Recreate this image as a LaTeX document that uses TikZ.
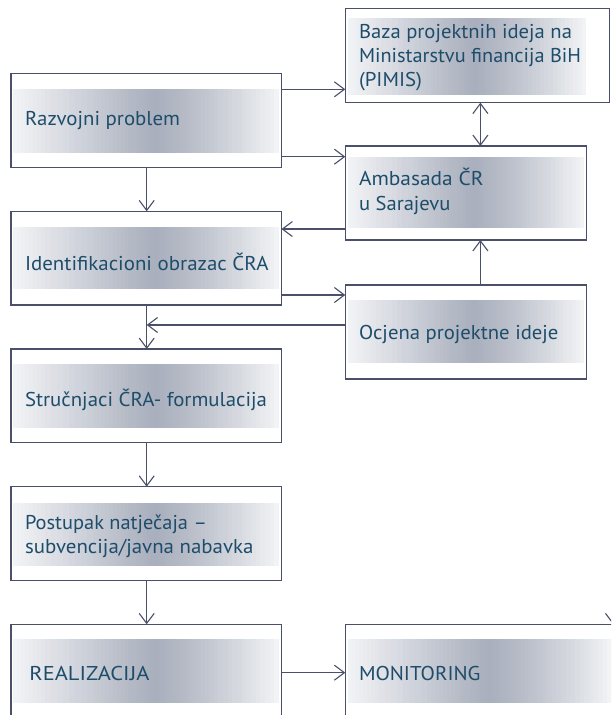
\documentclass[tikz,border=0pt]{standalone}
\usepackage{fontspec}
\usepackage{graphicx}
\setmainfont{PT Sans}
\usetikzlibrary{arrows.meta}
\definecolor{bordercol}{HTML}{4A5069}
\definecolor{txtcol}{HTML}{1E4D6B}
\definecolor{ga}{HTML}{F3F4F6}
\definecolor{gb}{HTML}{E2E4E9}
\definecolor{gc}{HTML}{C8CCD5}
\definecolor{gd}{HTML}{B7BCC7}
\definecolor{ge}{HTML}{A9AFBD}
\definecolor{gf}{HTML}{B2B7C3}
\definecolor{gg}{HTML}{C1C5CF}
\definecolor{gh}{HTML}{D8DBE1}
\definecolor{gi}{HTML}{F3F4F6}
\newlength\txtlen
\newcommand\fitw[2]{\settowidth{\txtlen}{#2}\pgfmathsetmacro\fitfactor{#1/\txtlen}\scalebox{\fitfactor}[1]{#2}}
\newcommand\drawband[4]{%
  \pgfmathsetmacro\bandw{#3-#1}%
  \foreach \fa/\fb/\ca/\cb in {0/0.12/ga/gb, 0.12/0.30/gb/gc, 0.30/0.42/gc/gd, 0.42/0.53/gd/ge, 0.53/0.62/ge/gf, 0.62/0.72/gf/gg, 0.72/0.86/gg/gh, 0.86/1/gh/gi}{%
    \foreach \j in {0,...,7}{%
      \pgfmathsetmacro\pct{(\j+0.5)*12.5}%
      \pgfmathsetmacro\xa{#1+(\fa+(\fb-\fa)*\j/8)*\bandw}%
      \pgfmathsetmacro\xb{#1+(\fa+(\fb-\fa)*(\j+1)/8)*\bandw+0.35}%
      \fill[\cb!\pct!\ca] (\xa,#2) rectangle (\xb,#4);%
    }%
  }%
}
\tikzset{
  boxnode/.style={draw=bordercol, line width=1.3pt, rectangle, inner sep=0pt, outer sep=0pt, anchor=north west},
  label/.style={anchor=base west, inner sep=0pt, text=txtcol, font=\fontsize{20}{24}\selectfont},
  arr/.style={draw=bordercol, line width=1.1pt, -{Straight Barb[length=10pt, width=15pt, line width=1.1pt]}},
  darr/.style={draw=bordercol, line width=1.1pt, {Straight Barb[length=10pt, width=15pt, line width=1.1pt]}-{Straight Barb[length=10pt, width=15pt, line width=1.1pt]}}
}
\begin{document}
\begin{tikzpicture}[x=1pt, y=-1pt]
\useasboundingbox (0,0) rectangle (611,715);
\clip (0,0) rectangle (611,715);
\fill[white] (0,0) rectangle (611,715);
% bands
\drawband{13}{89}{279}{152.7}
\drawband{347.5}{18}{586}{95}
\drawband{347.5}{156.7}{584}{227.7}
\drawband{13}{227.3}{279}{289.3}
\drawband{347.5}{300}{584}{363.3}
\drawband{13}{364}{279}{427.7}
\drawband{13}{503.3}{279}{565.7}
\drawband{13}{639}{279}{702.7}
\drawband{347.5}{639}{612}{702.7}
% boxes
\node[boxnode, minimum width=270.6pt, minimum height=94pt] (R) at (10.9,73.7) {};
\node[boxnode, minimum width=264.5pt, minimum height=94pt] (B) at (345.3,8.7) {};
\node[boxnode, minimum width=241.2pt, minimum height=94pt] (A) at (345.3,146) {};
\node[boxnode, minimum width=270.6pt, minimum height=93.7pt] (I) at (10.9,211.3) {};
\node[boxnode, minimum width=241.2pt, minimum height=94pt] (O) at (345.3,285) {};
\node[boxnode, minimum width=270.6pt, minimum height=93.7pt] (S) at (10.9,349) {};
\node[boxnode, minimum width=270.6pt, minimum height=94pt] (P) at (10.9,486.7) {};
\node[boxnode, minimum width=270.6pt, minimum height=120pt] (RE) at (10.9,624.3) {};
\node[boxnode, minimum width=290pt, minimum height=120pt] (M) at (345.3,624.3) {};
% texts
\node[label] (tR) at (24.8,125) {\fitw{155}{Razvojni problem}};
\node[label] (tB1) at (358.8,38.3) {\fitw{213}{Baza projektnih ideja na}};
\node[label] (tB2) at (358.8,62.4) {\fitw{222}{Ministarstvu financija BiH}};
\node[label] (tB3) at (358.8,86.4) {\fitw{63}{(PIMIS)}};
\node[label] (tA1) at (358.8,185) {\fitw{124.5}{Ambasada ČR}};
\node[label] (tA2) at (358.8,210) {\fitw{91.5}{u Sarajevu}};
\node[label] (tI) at (24.8,270.3) {\fitw{243.5}{Identifikacioni obrazac ČRA}};
\node[label] (tO) at (358.8,339) {\fitw{199.5}{Ocjena projektne ideje}};
\node[label] (tS) at (24.8,406.7) {\fitw{242}{Stručnjaci ČRA- formulacija}};
\node[label] (tP1) at (24.8,529.3) {\fitw{182}{Postupak natječaja –}};
\node[label] (tP2) at (24.8,553.7) {\fitw{228.5}{subvencija/javna nabavka}};
\node[label] (tRE) at (29.2,680) {\fitw{120}{REALIZACIJA}};
\node[label] (tM) at (358.8,680) {\fitw{121.5}{MONITORING}};
% connector levels
\coordinate (y1) at (0,89.3);
\coordinate (y2) at (0,156.7);
\coordinate (y3) at (0,229);
\coordinate (y4) at (0,295);
\coordinate (y5) at (0,325);
\coordinate (y6) at (0,672.7);
\coordinate (xc) at (480.4,0);
\coordinate (xl) at (146.7,0);
\coordinate (offsrc) at (613,560);
% connectors
\draw[arr] (R.east |- y1) -- (B.west |- y1);
\draw[arr] (R.east |- y2) -- (A.west |- y2);
\draw[darr] (B.south -| xc) -- (A.north -| xc);
\draw[arr] (R.south -| xl) -- (I.north -| xl);
\draw[arr] (A.west |- y3) -- (I.east |- y3);
\draw[arr] (I.east |- y4) -- (O.west |- y4);
\draw[arr] (O.north -| xc) -- (A.south -| xc);
\draw[arr] (O.west |- y5) -- (xl |- y5);
\draw[arr] (I.south -| xl) -- (S.north -| xl);
\draw[arr] (S.south -| xl) -- (P.north -| xl);
\draw[arr] (P.south -| xl) -- (RE.north -| xl);
\draw[arr] (RE.east |- y6) -- (M.west |- y6);
\draw[arr] (offsrc) -- (offsrc |- M.north);
\end{tikzpicture}
\end{document}
